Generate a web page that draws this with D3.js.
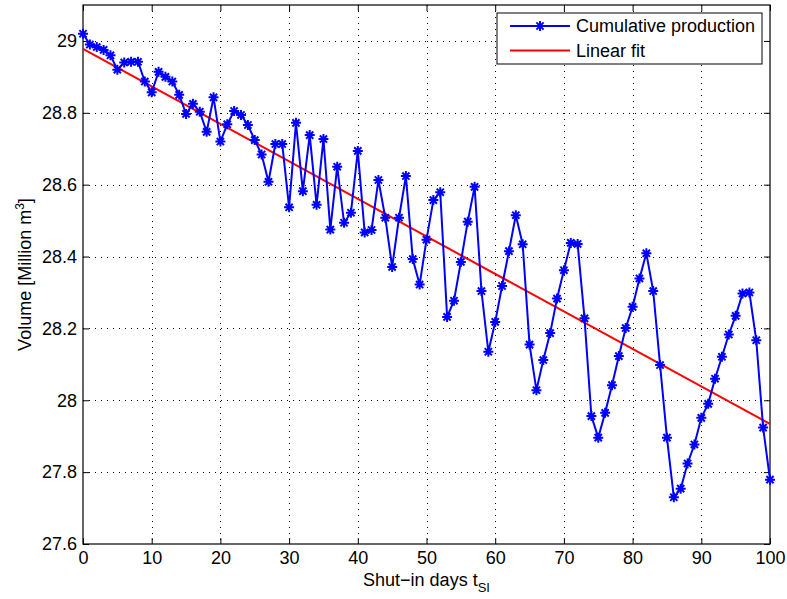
<!DOCTYPE html>
<html lang="en">
<head>
<meta charset="UTF-8">
<title>Cumulative production</title>
<script src="https://d3js.org/d3.v7.min.js"></script>
<style>
    body { margin: 0; background: #fff; }
    text { font-family: "Liberation Sans", Arial, sans-serif; fill: #000; }
</style>
</head>
<body>
<div id="chart"></div>
<script>
    // shut-in days and volume (million m3)
    const days = d3.range(0, 101);
    const volume = [
        29.02, 28.99, 28.983, 28.975, 28.96, 28.92, 28.94, 28.942, 28.942, 28.887,
        28.857, 28.914, 28.90, 28.887, 28.85, 28.797, 28.825, 28.803, 28.747, 28.843,
        28.72, 28.768, 28.805, 28.794, 28.766, 28.724, 28.684, 28.608, 28.713, 28.713,
        28.537, 28.772, 28.582, 28.738, 28.544, 28.727, 28.475, 28.65, 28.494, 28.522,
        28.694, 28.467, 28.474, 28.613, 28.508, 28.371, 28.508, 28.624, 28.393, 28.322,
        28.447, 28.557, 28.579, 28.232, 28.277, 28.385, 28.497, 28.594, 28.304, 28.135,
        28.218, 28.318, 28.415, 28.515, 28.434, 28.155, 28.028, 28.112, 28.187, 28.283,
        28.362, 28.438, 28.435, 28.228, 27.956, 27.896, 27.965, 28.042, 28.123, 28.201,
        28.26, 28.339, 28.409, 28.304, 28.098, 27.896, 27.73, 27.754, 27.824, 27.877,
        27.951, 27.99, 28.06, 28.121, 28.183, 28.235, 28.297, 28.30, 28.167, 27.924,
        27.779
    ];
    // linear fit end points
    const fitX = [0, 100];
    const fitY = [28.978, 27.934];

    const xTicks = [0, 10, 20, 30, 40, 50, 60, 70, 80, 90, 100];
    const yTicks = [27.6, 27.8, 28, 28.2, 28.4, 28.6, 28.8, 29];
    const legendLabels = ["Cumulative production", "Linear fit"];

    const width = 787, height = 599;
    const margin = {top: 5, right: 17, bottom: 55, left: 83};
    const w = width - margin.left - margin.right;
    const h = height - margin.top - margin.bottom;
    const fs = "18px";

    const svg = d3.select("#chart").append("svg")
        .attr("width", width)
        .attr("height", height);

    const g = svg.append("g").attr("transform", `translate(${margin.left},${margin.top})`);

    const x = d3.scaleLinear().domain([0, 100]).range([0, w]);
    const y = d3.scaleLinear().domain([27.6, 29.1]).range([h, 0]);

    // dotted grid
    g.append("g").selectAll("line")
        .data(xTicks.slice(1, -1))
        .join("line")
        .attr("x1", d => Math.round(x(d)) + 0.5).attr("x2", d => Math.round(x(d)) + 0.5)
        .attr("y1", 0).attr("y2", h)
        .attr("stroke", "#000").attr("stroke-width", 1).attr("stroke-dasharray", "1,5");
    g.append("g").selectAll("line")
        .data(yTicks.slice(1))
        .join("line")
        .attr("y1", d => Math.round(y(d)) + 0.5).attr("y2", d => Math.round(y(d)) + 0.5)
        .attr("x1", 0).attr("x2", w)
        .attr("stroke", "#000").attr("stroke-width", 1).attr("stroke-dasharray", "1,5");

    // axes with inward ticks on all sides
    const fmtY = d3.format("~g");
    g.append("g").attr("transform", `translate(0,${h})`)
        .call(d3.axisBottom(x).tickValues(xTicks).tickSizeInner(-6).tickSizeOuter(0).tickPadding(7));
    g.append("g")
        .call(d3.axisLeft(y).tickValues(yTicks).tickFormat(fmtY).tickSizeInner(-6).tickSizeOuter(0).tickPadding(6));
    g.append("g")
        .call(d3.axisTop(x).tickValues(xTicks).tickSizeInner(-6).tickSizeOuter(0).tickFormat(""));
    g.append("g").attr("transform", `translate(${w},0)`)
        .call(d3.axisRight(y).tickValues(yTicks).tickSizeInner(-6).tickSizeOuter(0).tickFormat(""));
    g.selectAll(".domain").remove();
    g.selectAll(".tick text").style("font-size", fs);
    g.append("rect").attr("width", w).attr("height", h)
        .attr("fill", "none").attr("stroke", "#000").attr("stroke-width", 1.2);

    // linear fit
    const line = d3.line().x(d => x(d[0])).y(d => y(d[1]));
    g.append("path")
        .datum(fitX.map((d, i) => [d, fitY[i]]))
        .attr("d", line)
        .attr("fill", "none").attr("stroke", "#ff0000").attr("stroke-width", 2);

    // cumulative production
    const pts = days.map((d, i) => [d, volume[i]]);
    g.append("path")
        .datum(pts)
        .attr("d", line)
        .attr("fill", "none").attr("stroke", "#0000ff").attr("stroke-width", 2);

    const star = "M-5,0H5M0,-5V5M-3.6,-3.6L3.6,3.6M-3.6,3.6L3.6,-3.6";
    g.append("g").selectAll("path")
        .data(pts)
        .join("path")
        .attr("transform", d => `translate(${x(d[0])},${y(d[1])})`)
        .attr("d", star)
        .attr("stroke", "#0000ff").attr("stroke-width", 2).attr("fill", "none");

    // axis labels
    const xl = svg.append("text")
        .attr("x", margin.left + w / 2).attr("y", 586)
        .attr("text-anchor", "middle").style("font-size", fs);
    xl.append("tspan").text("Shut\u2212in days t");
    xl.append("tspan").attr("dy", 6).style("font-size", "13px").text("SI");

    const yl = svg.append("text")
        .attr("transform", `translate(31,${margin.top + h / 2}) rotate(-90)`)
        .attr("text-anchor", "middle").style("font-size", fs);
    yl.append("tspan").text("Volume [Million m");
    yl.append("tspan").attr("dy", -7).style("font-size", "12px").text("3");
    yl.append("tspan").attr("dy", 7).text("]");

    // legend
    const lg = svg.append("g").attr("transform", "translate(497,13)");
    lg.append("rect").attr("width", 265).attr("height", 51)
        .attr("fill", "#fff").attr("stroke", "#000").attr("stroke-width", 1);
    const colors = ["#0000ff", "#ff0000"];
    legendLabels.forEach((lab, i) => {
        const yy = 13 + i * 24.5;
        lg.append("line").attr("x1", 13).attr("x2", 73).attr("y1", yy).attr("y2", yy)
            .attr("stroke", colors[i]).attr("stroke-width", 2);
        if (i === 0) {
            lg.append("path").attr("transform", `translate(43,${yy})`).attr("d", star)
                .attr("stroke", colors[i]).attr("stroke-width", 2).attr("fill", "none");
        }
        lg.append("text").attr("x", 79).attr("y", yy).attr("dy", "0.35em")
            .style("font-size", fs).text(lab);
    });
</script>
</body>
</html>
